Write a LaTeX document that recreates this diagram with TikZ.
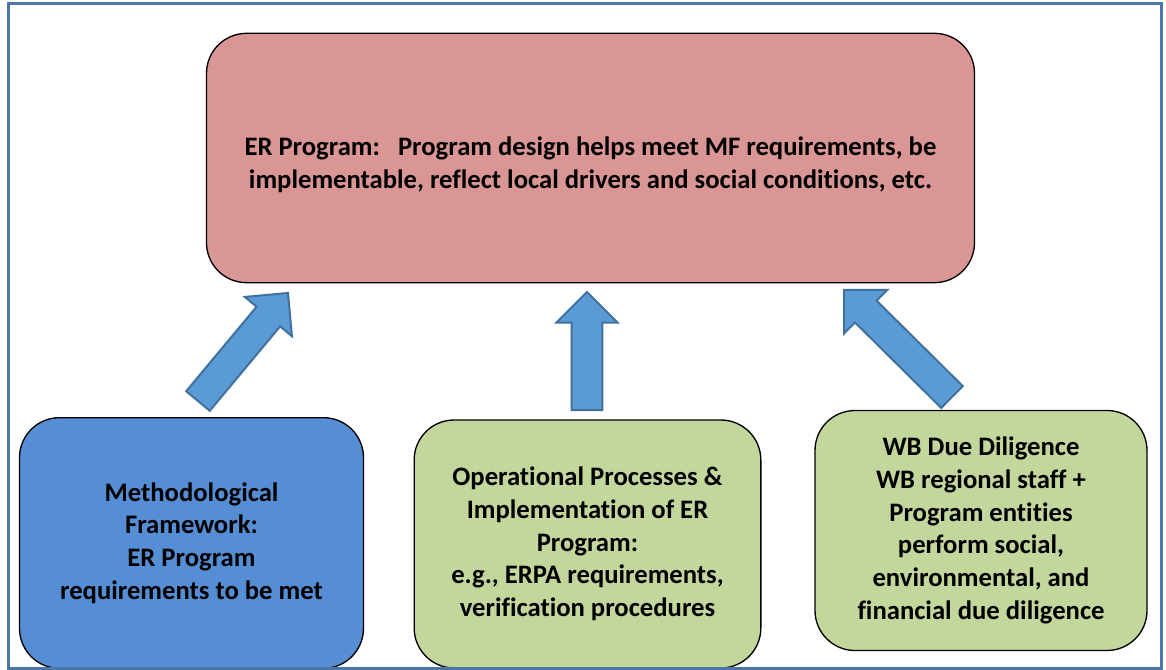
\documentclass[tikz,border=0pt]{standalone}
\usepackage{fontspec}
\setmainfont{Carlito}[Ligatures=NoCommon]
\usetikzlibrary{calc}

\definecolor{erpink}{HTML}{D99694}
\definecolor{mfblue}{HTML}{558ED5}
\definecolor{opgreen}{HTML}{C3D69B}
\definecolor{arrowfill}{HTML}{5B9BD5}
\definecolor{arrowline}{HTML}{41719C}
\definecolor{framecol}{HTML}{4A77A8}

% fat block arrow from #1 (tail) to #2 (tip)
\newcommand{\blockarrow}[2]{%
    \coordinate (#1-base) at ($(#2)!23pt!(#1)$);
    \draw[uparrow] ($(#1)!11.5pt!90:(#2)$) -- ($(#1-base)!11.5pt!90:(#2)$)
        -- ($(#1-base)!23pt!90:(#2)$) -- (#2)
        -- ($(#1-base)!23pt!-90:(#2)$) -- ($(#1-base)!11.5pt!-90:(#2)$)
        -- ($(#1)!11.5pt!-90:(#2)$) -- cycle;
}

\begin{document}
\begin{tikzpicture}[x=0.75pt,y=-0.75pt,
    boxtext/.style={align=center, font=\fontsize{20pt}{24.5pt}\selectfont\bfseries},
    box/.style={boxtext, draw=black, line width=1pt, rounded corners=30pt},
    uparrow/.style={fill=arrowfill, draw=arrowline, line width=1.5pt, line join=miter}]

    \useasboundingbox (0,0) rectangle (1166,670);

    \node[box, fill=erpink, minimum width=576pt, minimum height=187pt] (er) at (590.5,158) {};
    \node[boxtext] (er-text) at (590.5,165)
        {ER Program:\ \ \ Program design helps meet MF requirements, be\\
         implementable, reflect local drivers and social conditions, etc.};

    \node[box, fill=mfblue, minimum width=258pt, minimum height=188pt] (mf) at (191.5,543)
        {Methodological\\ Framework:\\ ER Program\\ requirements to be met};

    \node[box, fill=opgreen, minimum width=260pt, minimum height=186pt] (op) at (587.5,544)
        {Operational Processes \&\\ Implementation of ER\\ Program:\\
         e.g., ERPA requirements,\\ verification procedures};

    \node[box, fill=opgreen, minimum width=249pt, minimum height=180pt] (wb) at (981,530.5)
        {WB Due Diligence\\ WB regional staff +\\ Program entities\\ perform social,\\
         environmental, and\\ financial due diligence};

    % arrow ends
    \coordinate (mf-tail) at (198,401);
    \coordinate (mf-tip) at (288,293);
    \coordinate (op-tail) at (587,410);
    \coordinate (op-tip) at (587,292);
    \coordinate (wb-tail) at (952,397);
    \coordinate (wb-tip) at (844,290);

    \blockarrow{mf-tail}{mf-tip}
    \blockarrow{op-tail}{op-tip}
    \blockarrow{wb-tail}{wb-tip}

    % outer frame
    \draw[framecol, line width=2.25pt] (8,4) rectangle (1161,668);

\end{tikzpicture}
\end{document}
